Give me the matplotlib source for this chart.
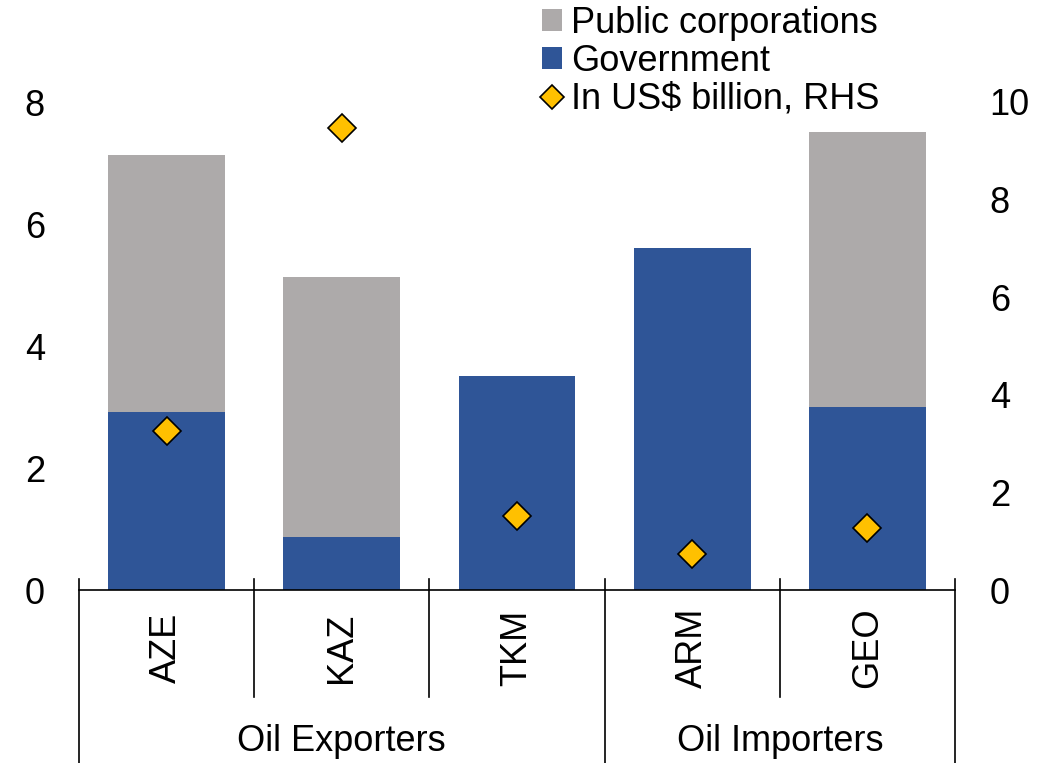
import matplotlib
matplotlib.use("Agg")
import matplotlib.pyplot as plt
from matplotlib.lines import Line2D
from matplotlib.patches import Patch
import matplotlib.transforms as mtransforms

plt.rcParams['font.family'] = ['Liberation Sans', 'DejaVu Sans']

countries = ["AZE", "KAZ", "TKM", "ARM", "GEO"]
groups = ["Oil Exporters", "Oil Importers"]
group_sizes = [3, 2]
government = [2.92, 0.87, 3.51, 5.61, 3.00]
public_corp = [4.21, 4.26, 0.0, 0.0, 4.51]
usd_billion = [3.26, 9.47, 1.52, 0.74, 1.27]

gray = "#ADAAAA"
blue = "#2F5597"
gold = "#FFC000"
FS = 26

fig = plt.figure(figsize=(10.53, 7.63), dpi=100)
ax = fig.add_axes([79/1053, 1-590/763, (955-79)/1053, 488/763])
x = list(range(len(countries)))
ax.bar(x, government, width=0.667, color=blue, zorder=2)
ax.bar(x, public_corp, width=0.667, bottom=government, color=gray, zorder=2)
ax.set_xlim(-0.5, len(countries)-0.5)
ax.set_ylim(0, 8)
ax.set_yticks([0, 2, 4, 6, 8])
ax.set_xticks([])
for s in ["top", "left", "right"]:
    ax.spines[s].set_visible(False)
ax.spines["bottom"].set_linewidth(1.2)
ax.tick_params(axis='y', length=0, pad=24.5, labelsize=FS)

ax2 = ax.twinx()
ax2.set_ylim(0, 10)
ax2.set_yticks([0, 2, 4, 6, 8, 10])
for s in ["top", "left", "right", "bottom"]:
    ax2.spines[s].set_visible(False)
ax2.tick_params(axis='y', length=0, pad=25, labelsize=FS)
ax2.plot(x, usd_billion, linestyle='none', marker='D', markersize=14,
         markerfacecolor=gold, markeredgecolor='black', markeredgewidth=1.2, zorder=3)

trans = mtransforms.blended_transform_factory(ax.transData, ax.transAxes)
# category labels
for i, c in enumerate(countries):
    ax.text(i, -0.118, c, transform=trans, rotation=90, ha='center', va='center', fontsize=FS)
# separators
bounds = [-0.5]
acc = 0
for g in group_sizes:
    acc += g
    bounds.append(acc - 0.5)
for b in range(len(countries)+1):
    pos = b - 0.5
    bottom = -0.3545 if pos in bounds else -0.219
    ax.add_line(Line2D([pos, pos], [0.0225, bottom], transform=trans, color='black',
                       linewidth=1.2, clip_on=False))
# group labels
start = -0.5
for g, n in zip(groups, group_sizes):
    center = start + n / 2
    ax.text(center, -0.311, g, transform=trans, ha='center', va='center', fontsize=FS)
    start += n

handles = [Patch(facecolor=gray, edgecolor='none'),
           Patch(facecolor=blue, edgecolor='none'),
           Line2D([], [], linestyle='none', marker='D', markersize=12,
                  markerfacecolor=gold, markeredgecolor='black', markeredgewidth=1.2)]
labels = ["Public corporations", "Government", "In US$ billion, RHS"]
fig.legend(handles, labels, loc='upper left', bbox_to_anchor=(542/1053, 1.0 - 6/763),
           frameon=False, fontsize=FS, handlelength=0.55, handleheight=0.55,
           handletextpad=0.25, labelspacing=0.08, borderpad=0.0, borderaxespad=0.0)

fig.savefig("out.png", dpi=100)
